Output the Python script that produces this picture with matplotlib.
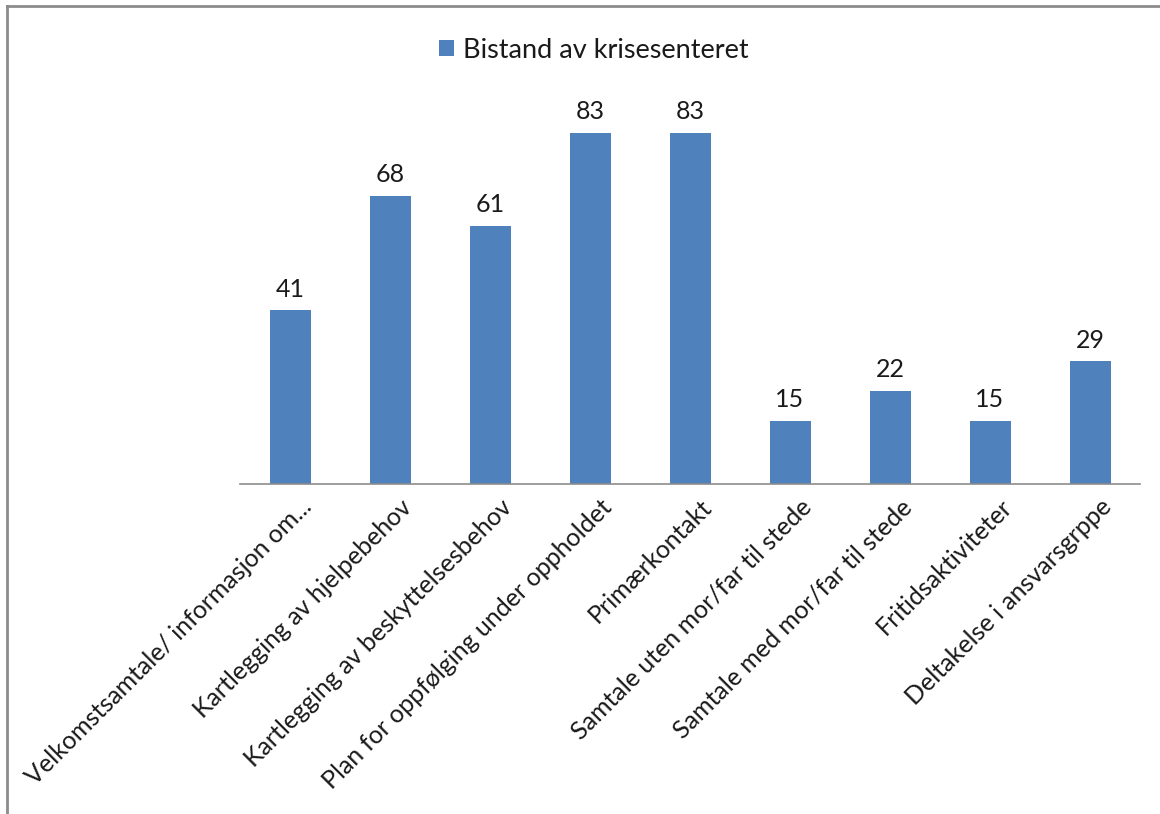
import matplotlib
matplotlib.use("Agg")
import matplotlib.pyplot as plt
import matplotlib.transforms as mtransforms
from matplotlib.lines import Line2D

plt.rcParams['font.family'] = ['Lato', 'DejaVu Sans']

# data
categories = [
    "Velkomstsamtale/ informasjon om...",
    "Kartlegging av hjelpebehov",
    "Kartlegging av beskyttelsesbehov",
    "Plan for oppfølging under oppholdet",
    "Primærkontakt",
    "Samtale uten mor/far til stede",
    "Samtale med mor/far til stede",
    "Fritidsaktiviteter",
    "Deltakelse i ansvarsgrppe",
]
values = [41, 68, 61, 83, 83, 15, 22, 15, 29]
series_name = "Bistand av krisesenteret"

bar_color = "#4F81BD"
fs = 18

fig = plt.figure(figsize=(11.6, 8.14), dpi=100)
ax = fig.add_axes([240 / 1160, 1 - 484 / 814, 900 / 1160, 381 / 814])

x = list(range(len(categories)))
bars = ax.bar(x, values, width=0.41, color=bar_color, label=series_name, zorder=2)
ax.bar_label(bars, padding=7, fontsize=fs, color="#1a1a1a")

ax.set_xlim(-0.5, len(categories) - 0.5)
ax.set_ylim(0, 90)
ax.set_yticks([])
for s in ["top", "right", "left"]:
    ax.spines[s].set_visible(False)
ax.spines["bottom"].set_color("#8c8c8c")
ax.spines["bottom"].set_linewidth(1.2)

ax.set_xticks(x)
ax.set_xticklabels(categories, rotation=45, ha="right", rotation_mode="anchor",
                   fontsize=fs, color="#1a1a1a")
ax.tick_params(axis="x", length=0, pad=8)
# nudge labels to the right like Excel does
shift = mtransforms.ScaledTranslation(10 / 100, 0, fig.dpi_scale_trans)
for lbl in ax.get_xticklabels():
    lbl.set_transform(lbl.get_transform() + shift)

fig.legend(loc="center", bbox_to_anchor=(594 / 1160, 1 - 50 / 814), frameon=False,
           fontsize=19.5, handlelength=0.55, handleheight=0.55, handletextpad=0.35,
           labelcolor="#1a1a1a")

# outer chart border (left and top edges visible)
fig.add_artist(Line2D([7 / 1160, 7 / 1160], [0, 1 - 6 / 814], transform=fig.transFigure,
                      color="#8c8c8c", lw=2))
fig.add_artist(Line2D([7 / 1160, 1], [1 - 6 / 814, 1 - 6 / 814], transform=fig.transFigure,
                      color="#8c8c8c", lw=2))

fig.savefig("out.png", dpi=100, facecolor="white")
